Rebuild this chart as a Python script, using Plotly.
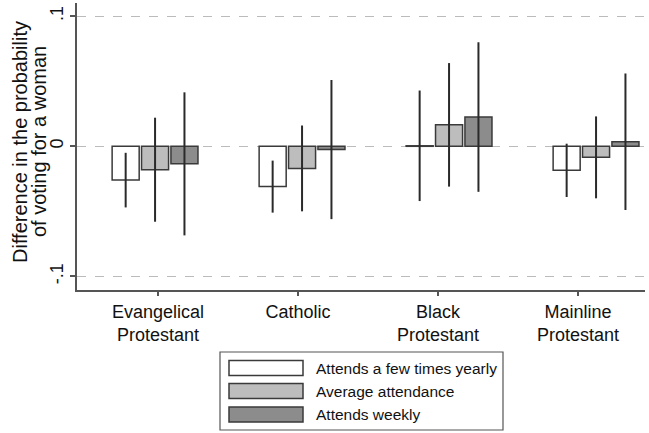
import plotly.graph_objects as go

categories = ["Evangelical<br>Protestant", "Catholic", "Black<br>Protestant", "Mainline<br>Protestant"]
series_names = ["Attends a few times yearly", "Average attendance", "Attends weekly"]

yearly = [-0.026, -0.031, 0.0004, -0.0185]
yearly_ci = [0.021, 0.020, 0.0425, 0.0205]
average = [-0.018, -0.017, 0.0165, -0.0085]
average_ci = [0.040, 0.033, 0.0475, 0.0315]
weekly = [-0.0135, -0.0025, 0.0225, 0.0035]
weekly_ci = [0.055, 0.0535, 0.0575, 0.0525]

y_tickvals = [-0.1, 0, 0.1]
y_ticktext = ["-.1", "0", ".1"]
y_title_lines = ["Difference in the probability", "of voting for a woman"]

fills = ["#ffffff", "#bdbdbd", "#8c8c8c"]
edge = "#3a3a3a"
values = [yearly, average, weekly]
cis = [yearly_ci, average_ci, weekly_ci]

W, H = 649, 433
L, R, T, B = 77, 4, 3, 143

fig = go.Figure()
for name, v, ci, c in zip(series_names, values, cis, fills):
    fig.add_trace(go.Bar(
        x=categories, y=v, name=name, showlegend=False,
        marker=dict(color=c, line=dict(color=edge, width=1.5)),
        error_y=dict(type="data", array=ci, symmetric=True, color="#2a2a2a", thickness=2, width=0),
        xaxis="x", yaxis="y",
    ))

# invisible trace carrying the category tick axis
fig.add_trace(go.Scatter(x=categories, y=[0] * len(categories), xaxis="x2", yaxis="y",
                         mode="markers", marker=dict(opacity=0), showlegend=False, hoverinfo="skip"))

font_family = "Liberation Sans, Arial, sans-serif"

fig.update_layout(
    width=W, height=H,
    margin=dict(l=L, r=R, t=T, b=B),
    paper_bgcolor="white", plot_bgcolor="white",
    barmode="group", bargap=0.4, bargroupgap=0.08,
    font=dict(family=font_family, color="#111111"),
    showlegend=False,
    xaxis=dict(type="category", range=[-0.531, 3.333], showline=True, linecolor="#555555", linewidth=1.5,
               showticklabels=False, ticks="", showgrid=False, zeroline=False),
    xaxis2=dict(type="category", overlaying="x", anchor="y", side="bottom", range=[-0.579, 3.479],
                showline=False, ticks="outside", ticklen=5, tickcolor="#555555", tickwidth=1.5,
                tickfont=dict(size=18, color="#111111"), showgrid=False, zeroline=False),
    yaxis=dict(range=[-0.1105, 0.1102], tickvals=y_tickvals, ticktext=y_ticktext, tickangle=-90,
               showline=True, linecolor="#555555", linewidth=1.5, ticks="outside", ticklen=5,
               tickcolor="#555555", tickwidth=1.5, tickfont=dict(size=18, color="#111111"),
               showgrid=True, gridcolor="#bbbbbb", griddash="dash", gridwidth=1, zeroline=False),
)

# pixel -> paper helpers for the legend and title placement
pw, ph = W - L - R, H - T - B
def px(x):
    return (x - L) / pw
def py(y):
    return (H - B - y) / ph

# y-axis title (two tightly spaced lines, as in the reference)
for line, xc in zip(y_title_lines, [20, 39]):
    fig.add_annotation(xref="paper", yref="paper", x=px(xc), y=py(142), text=line, showarrow=False,
                       textangle=-90, xanchor="center", yanchor="middle",
                       font=dict(size=20, color="#111111"))

# custom legend with wide swatches
fig.add_shape(type="rect", xref="paper", yref="paper", x0=px(220), x1=px(503), y0=py(352), y1=py(430),
              line=dict(color="#555555", width=1.2), fillcolor="white")
row_centers = [368, 391, 414.5]
for name, c, yc in zip(series_names, fills, row_centers):
    fig.add_shape(type="rect", xref="paper", yref="paper", x0=px(229), x1=px(303),
                  y0=py(yc + 7.5), y1=py(yc - 7.5), line=dict(color=edge, width=1.5), fillcolor=c)
    fig.add_annotation(xref="paper", yref="paper", x=px(314), y=py(yc), text=name, showarrow=False,
                       xanchor="left", yanchor="middle", font=dict(size=15.5, color="#111111"))

fig.write_html("out.html", config={"displayModeBar": False},
               post_script="document.body.style.margin='0';")
